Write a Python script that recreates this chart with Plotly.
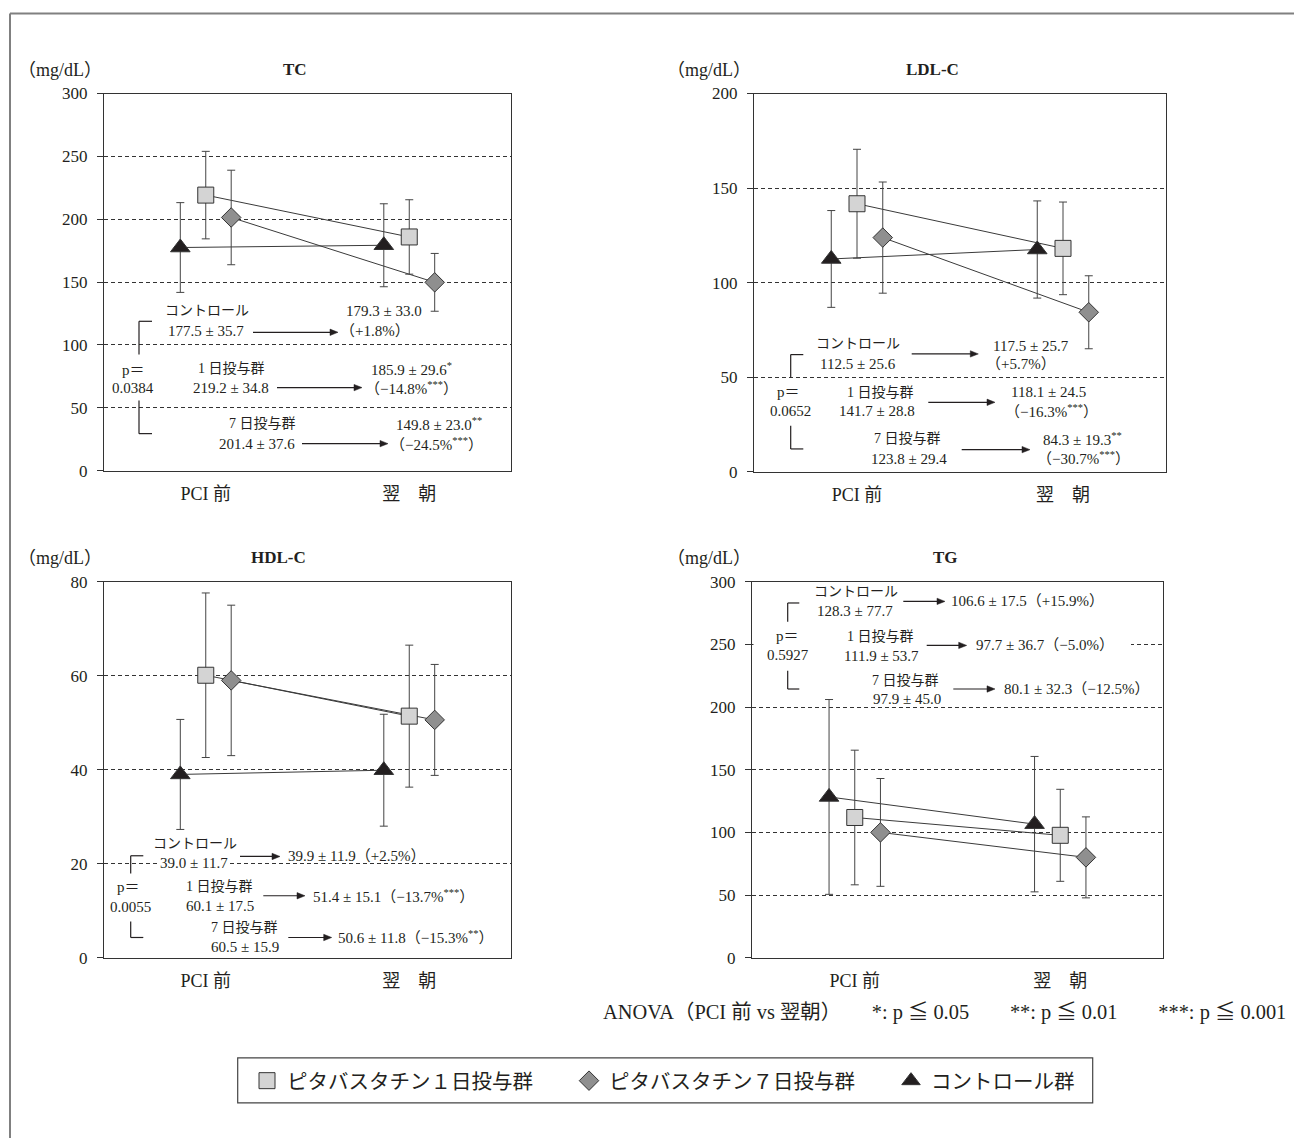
import plotly.graph_objects as go

W, H = 1294, 1138          # reference canvas (pixel coordinates used below)
HF = 1138                  # figure height
OY, SY = 8.5, 0.983        # observed page offset / vertical scale compensation
FONT = "Liberation Serif, Noto Sans CJK JP, serif"
INK = "#231f20"

# ---------------- data ----------------
timepoints = ["PCI 前", "翌　朝"]
timepoint_pos = [1, 3]
group_names = ["ピタバスタチン１日投与群", "ピタバスタチン７日投与群", "コントロール群"]

# TC (mg/dL): [PCI前, 翌朝]
tc_d1 = [219.2, 185.9]
tc_d1_sd = [34.8, 29.6]
tc_d7 = [201.4, 149.8]
tc_d7_sd = [37.6, 23.0]
tc_ctrl = [177.5, 179.3]
tc_ctrl_sd = [35.7, 33.0]

# LDL-C
ldl_d1 = [141.7, 118.1]
ldl_d1_sd = [28.8, 24.5]
ldl_d7 = [123.8, 84.3]
ldl_d7_sd = [29.4, 19.3]
ldl_ctrl = [112.5, 117.5]
ldl_ctrl_sd = [25.6, 25.7]

# HDL-C (as plotted)
hdl_d1 = [60.1, 51.4]
hdl_d1_sd = [17.5, 15.1]
hdl_d7 = [59.0, 50.6]
hdl_d7_sd = [16.0, 11.8]
hdl_ctrl = [39.0, 39.9]
hdl_ctrl_sd = [11.7, 11.9]

# TG (as plotted)
tg_d1 = [111.9, 97.7]
tg_d1_sd = [53.7, 36.7]
tg_d7 = [100.0, 80.1]
tg_d7_sd = [43.0, 32.3]
tg_ctrl = [128.3, 106.6]
tg_ctrl_sd = [77.7, 54.0]

# ---------------- styles ----------------
series_style = [
    dict(symbol="square", size=16, color="#d4d4d4", offset=0.0),
    dict(symbol="diamond", size=15, color="#8f8f8f", offset=0.25),
    dict(symbol="triangle-up", size=17, color=INK, offset=-0.25),
]

panels = [
    dict(title="TC", xd=(104, 511), yd=(93, 470), ymax=300, dtick=50,
         data=[(tc_d1, tc_d1_sd), (tc_d7, tc_d7_sd), (tc_ctrl, tc_ctrl_sd)],
         title_pos=(295, 69), unit_pos=(60, 69)),
    dict(title="LDL-C", xd=(754, 1166), yd=(93, 471), ymax=200, dtick=50,
         data=[(ldl_d1, ldl_d1_sd), (ldl_d7, ldl_d7_sd), (ldl_ctrl, ldl_ctrl_sd)],
         title_pos=(932, 69), unit_pos=(709, 69)),
    dict(title="HDL-C", xd=(104, 511), yd=(581, 957), ymax=80, dtick=20,
         data=[(hdl_d1, hdl_d1_sd), (hdl_d7, hdl_d7_sd), (hdl_ctrl, hdl_ctrl_sd)],
         title_pos=(278, 557), unit_pos=(60, 557)),
    dict(title="TG", xd=(752, 1163), yd=(581, 957), ymax=300, dtick=50,
         data=[(tg_d1, tg_d1_sd), (tg_d7, tg_d7_sd), (tg_ctrl, tg_ctrl_sd)],
         title_pos=(945, 557), unit_pos=(709, 557)),
]


def px(x):
    return x / W


def py(y):
    return 1 - ((y - OY) / SY) / HF


fig = go.Figure()
annotations = []
shapes = []

for i, p in enumerate(panels, start=1):
    xa = "x" if i == 1 else f"x{i}"
    ya = "y" if i == 1 else f"y{i}"
    # connecting lines first (under markers)
    for (vals, sd), st in zip(p["data"], series_style):
        fig.add_trace(go.Scatter(
            x=[t + st["offset"] for t in timepoint_pos], y=vals, mode="lines",
            line=dict(color="#3a3a3a", width=1), showlegend=False,
            hoverinfo="skip", xaxis=xa, yaxis=ya))
    for k, ((vals, sd), st) in enumerate(zip(p["data"], series_style)):
        fig.add_trace(go.Scatter(
            x=[t + st["offset"] for t in timepoint_pos], y=vals, mode="markers",
            marker=dict(symbol=st["symbol"], size=st["size"], color=st["color"],
                        line=dict(color="#333333", width=1)),
            error_y=dict(type="data", array=sd, color="#444444", thickness=1, width=4),
            name=group_names[k], legendgroup=group_names[k], showlegend=(i == 1),
            xaxis=xa, yaxis=ya))

    xname = "xaxis" if i == 1 else f"xaxis{i}"
    yname = "yaxis" if i == 1 else f"yaxis{i}"
    fig.update_layout(**{
        xname: dict(domain=[px(p["xd"][0]), px(p["xd"][1])], anchor=ya,
                    range=[0, 4], tickvals=timepoint_pos, ticktext=timepoints,
                    showgrid=False, zeroline=False, showline=True, mirror=True,
                    linecolor="#333333", linewidth=1, ticks="",
                    tickfont=dict(size=18, family=FONT, color=INK),
                    ticklabelstandoff=7, fixedrange=True),
        yname: dict(domain=[py(p["yd"][1]), py(p["yd"][0])], anchor=xa,
                    range=[0, p["ymax"]], dtick=p["dtick"], showgrid=True,
                    gridcolor="#333333", griddash="4px,3px", gridwidth=1,
                    zeroline=False, showline=True, mirror=True,
                    linecolor="#333333", linewidth=1, ticks="outside",
                    ticklen=6, tickcolor="#333333",
                    tickfont=dict(size=17, family=FONT, color=INK),
                    ticklabelstandoff=6, fixedrange=True),
    })
    annotations.append(dict(x=px(p["title_pos"][0]), y=py(p["title_pos"][1]),
                            xref="paper", yref="paper", text=f"<b>{p['title']}</b>",
                            showarrow=False, xanchor="center", yanchor="middle",
                            font=dict(size=17, family=FONT, color=INK)))
    annotations.append(dict(x=px(p["unit_pos"][0]), y=py(p["unit_pos"][1]),
                            xref="paper", yref="paper", text="（mg/dL）",
                            showarrow=False, xanchor="center", yanchor="middle",
                            font=dict(size=18, family=FONT, color=INK)))


def txt(x, y, s, anchor="center", size=15, bg=None):
    d = dict(x=px(x), y=py(y), xref="paper", yref="paper", text=s,
             showarrow=False, xanchor=anchor, yanchor="middle",
             font=dict(size=size, family=FONT, color=INK), borderpad=0)
    if bg:
        d["bgcolor"] = bg
    annotations.append(d)


def seg(x0, y0, x1, y1, color=INK, width=1.2):
    shapes.append(dict(type="line", xref="paper", yref="paper",
                       x0=px(x0), y0=py(y0), x1=px(x1), y1=py(y1),
                       line=dict(color=color, width=width)))


def arrow(x0, x1, y):
    head = 8
    seg(x0, y, x1 - head + 1, y)
    path = (f"M {px(x1)},{py(y)} L {px(x1 - head)},{py(y - 3.2)} "
            f"L {px(x1 - head)},{py(y + 3.2)} Z")
    shapes.append(dict(type="path", xref="paper", yref="paper", path=path,
                       fillcolor=INK, line=dict(color=INK, width=0.5)))


def bracket(x, x2, t0, t1, b0, b1):
    seg(x, t0, x, t1)
    seg(x, t0, x2, t0)
    seg(x, b0, x, b1)
    seg(x, b1, x2, b1)


# white patch in TG behind annotation block (hides 250 grid line)
shapes.append(dict(type="rect", xref="paper", yref="paper", layer="above",
                   x0=px(753.5), x1=px(1131), y0=py(651), y1=py(638),
                   fillcolor="white", line=dict(width=0)))

# ---- TC annotations ----
txt(207, 310, "コントロール", size=14)
txt(206, 330, "177.5 ± 35.7")
arrow(253, 338, 331.7)
txt(345, 310, "179.3 ± 33.0", "left")
txt(339, 330, "（+1.8%）", "left")
txt(231, 368, "1 日投与群", size=14)
txt(231, 387, "219.2 ± 34.8")
arrow(277, 362, 387)
txt(370, 368, "185.9 ± 29.6<sup>*</sup>", "left")
txt(364, 387, "（−14.8%<sup>***</sup>）", "left")
txt(262, 423, "7 日投与群", size=14)
txt(257, 443, "201.4 ± 37.6")
arrow(302, 388, 443)
txt(395, 423, "149.8 ± 23.0<sup>**</sup>", "left")
txt(389, 443, "（−24.5%<sup>***</sup>）", "left")
txt(133, 369, "p＝")
txt(133, 387, "0.0384")
bracket(139, 152, 320.7, 354, 400, 433)

# ---- LDL-C annotations ----
txt(858, 343.3, "コントロール", size=14)
txt(858, 363.3, "112.5 ± 25.6")
arrow(911.7, 978.3, 353.3)
txt(991.7, 345, "117.5 ± 25.7", "left")
txt(985, 363.3, "（+5.7%）", "left")
txt(880.8, 391.7, "1 日投与群", size=14)
txt(876.7, 410, "141.7 ± 28.8")
arrow(928.3, 995, 401.7)
txt(1010, 391.7, "118.1 ± 24.5", "left")
txt(1004, 410, "（−16.3%<sup>***</sup>）", "left")
txt(907.5, 438.3, "7 日投与群", size=14)
txt(909, 458.3, "123.8 ± 29.4")
arrow(961.7, 1030, 449)
txt(1041.7, 438.3, "84.3 ± 19.3<sup>**</sup>", "left")
txt(1036, 457.3, "（−30.7%<sup>***</sup>）", "left")
txt(788.3, 391.7, "p＝")
txt(790.3, 410, "0.0652")
bracket(790.7, 803.3, 354, 376.7, 425, 448.3)

# ---- HDL-C annotations ----
txt(195, 842.7, "コントロール", size=14)
txt(194.3, 862.7, "39.0 ± 11.7", bg="white")
arrow(240, 280, 855.7)
txt(286.7, 855.7, "39.9 ± 11.9（+2.5%）", "left")
txt(219, 886, "1 日投与群", size=14)
txt(220, 905, "60.1 ± 17.5")
arrow(263.3, 305, 895)
txt(311.7, 895, "51.4 ± 15.1（−13.7%<sup>***</sup>）", "left")
txt(244, 926.7, "7 日投与群", size=14)
txt(245.3, 946, "60.5 ± 15.9")
arrow(288.3, 331.7, 936.7)
txt(336.7, 936.7, "50.6 ± 11.8（−15.3%<sup>**</sup>）", "left")
txt(128.3, 886.7, "p＝")
txt(130, 906, "0.0055")
bracket(130.7, 143.3, 855, 872.7, 920.7, 936.7)

# ---- TG annotations ----
txt(855.7, 591, "コントロール", size=14)
txt(855, 610, "128.3 ± 77.7")
arrow(903.3, 945, 600.7)
txt(950, 600.7, "106.6 ± 17.5（+15.9%）", "left")
txt(880.7, 636, "1 日投与群", size=14)
txt(881, 655, "111.9 ± 53.7")
arrow(926.7, 966.7, 644.7)
txt(975, 644.7, "97.7 ± 36.7（−5.0%）", "left")
txt(905.7, 679.3, "7 日投与群", size=14)
txt(906.7, 698.3, "97.9 ± 45.0")
arrow(953.3, 995, 688.3)
txt(1003.3, 688.3, "80.1 ± 32.3（−12.5%）", "left")
txt(787.7, 635, "p＝")
txt(787.7, 654, "0.5927")
bracket(787.7, 799.3, 602.3, 621, 670, 688.3)

# ---- footnote ----
txt(1287, 1012, "ANOVA（PCI 前 vs 翌朝）　　*: p ≦ 0.05　　**: p ≦ 0.01　　***: p ≦ 0.001",
    "right", size=20.4)

# ---- outer frame ----
seg(10, 13, 1294, 13, color="#808080", width=2)
seg(10, 13, 10, 1150, color="#808080", width=2)

# ---- legend box ----
shapes.append(dict(type="rect", xref="paper", yref="paper",
                   x0=px(237.7), x1=px(1092.7), y0=py(1102), y1=py(1057),
                   line=dict(color="#444444", width=1.2), fillcolor="rgba(0,0,0,0)"))

fig.update_layout(
    width=W, height=HF,
    margin=dict(l=0, r=0, t=0, b=0),
    paper_bgcolor="white", plot_bgcolor="white",
    font=dict(family=FONT, color=INK),
    annotations=annotations, shapes=shapes,
    showlegend=True,
    legend=dict(orientation="h", x=px(247), y=py(1080), xanchor="left", yanchor="middle",
                bgcolor="rgba(0,0,0,0)", borderwidth=0,
                font=dict(size=20.5, family=FONT, color=INK),
                entrywidth=277, entrywidthmode="pixels",
                itemclick=False, itemdoubleclick=False),
)

fig.write_html(
    "out.html",
    config={"displayModeBar": False},
    post_script="document.body.style.margin='0px';document.body.style.overflow='hidden';",
)
